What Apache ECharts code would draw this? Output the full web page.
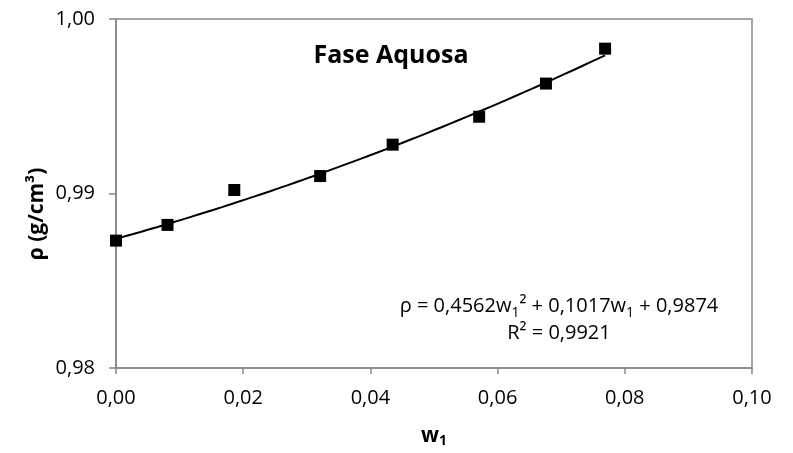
<!DOCTYPE html>
<html>
<head>
<meta charset="utf-8">
<script src="https://cdn.jsdelivr.net/npm/echarts@6/dist/echarts.min.js"></script>
<style>
  html, body { margin: 0; padding: 0; background: #fff; }
  #chart { width: 793px; height: 453px; }
</style>
</head>
<body>
<div id="chart"></div>
<script>
// Mass fraction w1 and measured density of the aqueous phase
const massFraction = [0, 0.0081, 0.0186, 0.0321, 0.0435, 0.0571, 0.0676, 0.0769];
const density = [0.9873, 0.9882, 0.9902, 0.9910, 0.9928, 0.9944, 0.9963, 0.9983];

// Quadratic fit: rho = a*w1^2 + b*w1 + c
const fitCoefficients = [0.4562, 0.1017, 0.9874];
const fitR2 = '0,9921';

const xTickLabels = ['0,00', '0,02', '0,04', '0,06', '0,08', '0,10'];
const yTickLabels = ['0,98', '0,99', '1,00'];

const FONT = '"Open Sans", "Liberation Sans", sans-serif';
const AXIS_GREY = '#868686';

// Sample the fitted curve across the measured range
const fitCurve = [];
const wMax = Math.max.apply(null, massFraction);
const steps = 60;
for (let i = 0; i <= steps; i++) {
  const w = wMax * i / steps;
  const [a, b, c] = fitCoefficients;
  fitCurve.push([w, a * w * w + b * w + c]);
}

const fmt = (v, d) => v.toFixed(d).replace('.', ',');

const chart = echarts.init(document.getElementById('chart'), null, { renderer: 'canvas' });

chart.setOption({
  animation: false,
  backgroundColor: '#ffffff',
  grid: {
    left: 116, right: 41, top: 19, bottom: 84,
    show: true, borderColor: AXIS_GREY, borderWidth: 1.5, backgroundColor: 'transparent'
  },
  xAxis: {
    type: 'value',
    min: 0, max: 0.1, interval: 0.02,
    name: '{w|w}{s|1}',
    nameLocation: 'middle',
    nameGap: 56,
    nameTextStyle: {
      rich: {
        w: { fontFamily: FONT, fontWeight: 'bold', fontSize: 21, color: '#000', lineHeight: 24 },
        s: { fontFamily: FONT, fontWeight: 'bold', fontSize: 14, color: '#000', lineHeight: 14, verticalAlign: 'bottom' }
      }
    },
    axisLine: { show: true, onZero: false, lineStyle: { color: AXIS_GREY, width: 1.5 } },
    axisTick: { show: true, inside: false, length: 6, lineStyle: { color: AXIS_GREY, width: 1.5 } },
    axisLabel: {
      margin: 20,
      fontFamily: FONT, fontSize: 20, color: '#000',
      formatter: (v) => xTickLabels[Math.round(v / 0.02)] ?? fmt(v, 2)
    },
    splitLine: { show: false }
  },
  yAxis: {
    type: 'value',
    min: 0.98, max: 1.0, interval: 0.01,
    axisLine: { show: true, onZero: false, lineStyle: { color: AXIS_GREY, width: 1.5 } },
    axisTick: { show: true, inside: false, length: 7, lineStyle: { color: AXIS_GREY, width: 1.5 } },
    axisLabel: {
      margin: 21,
      fontFamily: FONT, fontSize: 20, color: '#000',
      formatter: (v) => yTickLabels[Math.round((v - 0.98) / 0.01)] ?? fmt(v, 2)
    },
    splitLine: { show: false }
  },
  graphic: [
    {
      type: 'text',
      x: 391, y: 56,
      style: {
        text: 'Fase Aquosa',
        font: 'bold 25px ' + FONT,
        fill: '#000',
        textAlign: 'center',
        textVerticalAlign: 'middle'
      }
    },
    {
      type: 'text',
      x: 37, y: 214,
      rotation: Math.PI / 2,
      style: {
        text: 'ρ (g/cm³)',
        font: 'bold 21px ' + FONT,
        fill: '#000',
        textAlign: 'center',
        textVerticalAlign: 'middle'
      }
    },
    {
      type: 'text',
      x: 559, y: 320,
      style: {
        text: '{m|ρ = ' + fmt(fitCoefficients[0], 4) + 'w}{s|1}{m|² + ' + fmt(fitCoefficients[1], 4) +
              'w}{s|1}{m| + ' + fmt(fitCoefficients[2], 4) + '}\n{m|R² = ' + fitR2 + '}',
        textAlign: 'center',
        textVerticalAlign: 'middle',
        rich: {
          m: { fontFamily: FONT, fontSize: 20, fill: '#000', lineHeight: 27 },
          s: { fontFamily: FONT, fontSize: 14, fill: '#000', lineHeight: 14, verticalAlign: 'bottom' }
        }
      }
    }
  ],
  series: [
    {
      name: 'Ajuste',
      type: 'line',
      data: fitCurve,
      showSymbol: false,
      smooth: false,
      lineStyle: { color: '#000', width: 2 },
      z: 2
    },
    {
      name: 'Fase Aquosa',
      type: 'scatter',
      data: massFraction.map((w, i) => [w, density[i]]),
      symbol: 'rect',
      symbolSize: 12,
      itemStyle: { color: '#000', opacity: 1 },
      clip: false,
      z: 3
    }
  ]
});
</script>
</body>
</html>
